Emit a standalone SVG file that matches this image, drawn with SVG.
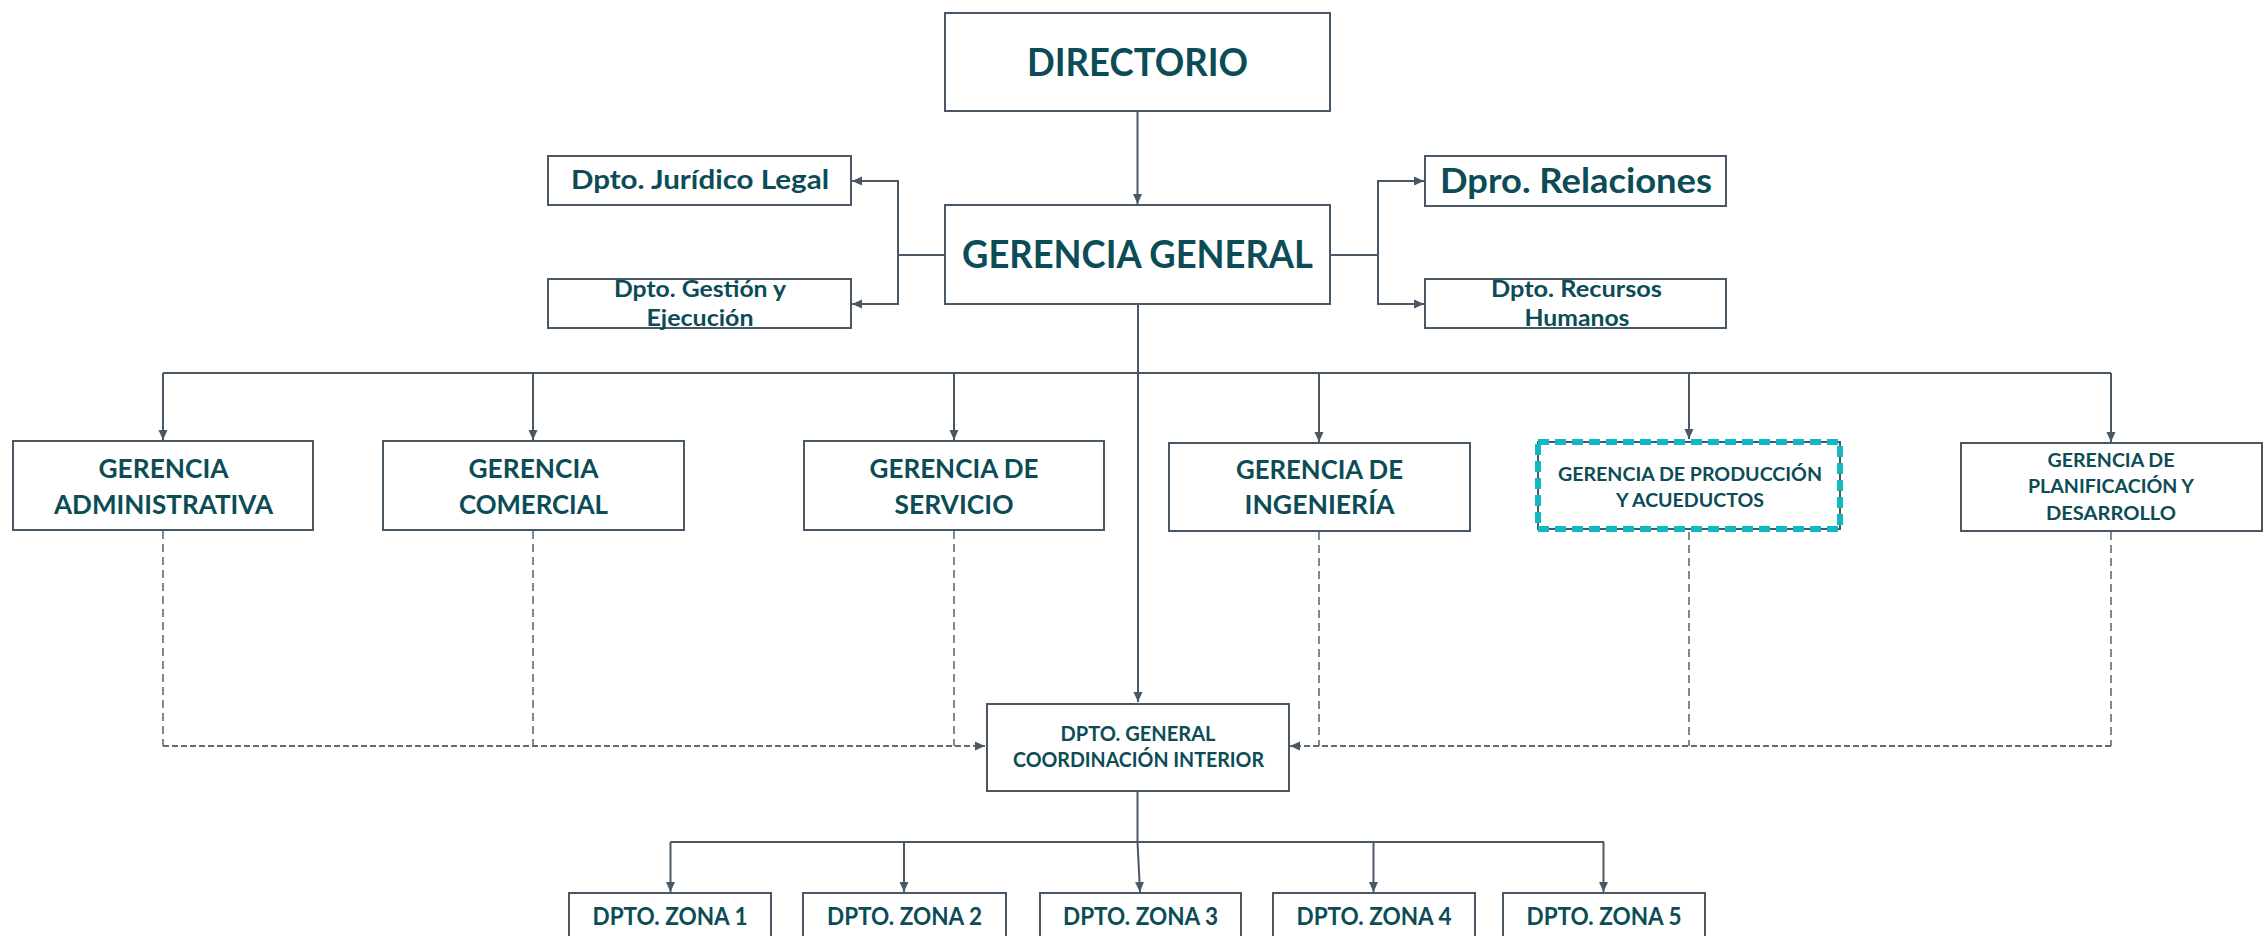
<svg xmlns="http://www.w3.org/2000/svg" width="2266" height="936" viewBox="0 0 2266 936">
<style>
.box{fill:#ffffff;stroke:#4a5866;stroke-width:2}
.hl{fill:none;stroke:#10b8c4;stroke-width:6;stroke-dasharray:11 6}
.t{font-family:Lato,"Open Sans","Liberation Sans",sans-serif;font-weight:bold;fill:#0b4c56;text-anchor:middle}
.ln{fill:none;stroke:#4a5866;stroke-width:2}
.dv{fill:none;stroke:#5f6b78;stroke-width:1.6;stroke-dasharray:8 5}
.dh{fill:none;stroke:#5f6b78;stroke-width:2.2;stroke-dasharray:6 3}
</style>
<defs>
<marker id="ah" markerUnits="userSpaceOnUse" markerWidth="11" markerHeight="10" refX="10" refY="5" orient="auto">
<path d="M0,0.5 L10,5 L0,9.5 z" fill="#4a5866"/>
</marker>
</defs>
<rect x="0" y="0" width="2266" height="936" fill="#ffffff"/>
<g id="connectors">
<path class="ln" d="M1137.5 111 V204" marker-end="url(#ah)"/>
<path class="ln" d="M945 255 H898 V181 H852" marker-end="url(#ah)"/>
<path class="ln" d="M898 255 V304 H852" marker-end="url(#ah)"/>
<path class="ln" d="M1330 255 H1378 V181 H1424" marker-end="url(#ah)"/>
<path class="ln" d="M1378 255 V304 H1424" marker-end="url(#ah)"/>
<path class="ln" d="M1138 304 V702" marker-end="url(#ah)"/>
<path class="ln" d="M163 373 H2111"/>
<path class="ln" d="M163 373 V440" marker-end="url(#ah)"/>
<path class="ln" d="M533 373 V440" marker-end="url(#ah)"/>
<path class="ln" d="M954 373 V440" marker-end="url(#ah)"/>
<path class="ln" d="M1319 373 V442" marker-end="url(#ah)"/>
<path class="ln" d="M1689 373 V439" marker-end="url(#ah)"/>
<path class="ln" d="M2111 373 V442" marker-end="url(#ah)"/>
<path class="dv" d="M163 531 V746"/>
<path class="dv" d="M533 531 V746"/>
<path class="dv" d="M954 531 V746"/>
<path class="dh" d="M163 746 H985" marker-end="url(#ah)"/>
<path class="dv" d="M1319 532 V746"/>
<path class="dv" d="M1689 532 V746"/>
<path class="dv" d="M2111 532 V746"/>
<path class="dh" d="M2111 746 H1290" marker-end="url(#ah)"/>
<path class="ln" d="M1137.5 791 V842"/>
<path class="ln" d="M670.5 842 H1604"/>
<path class="ln" d="M670.5 842 V892" marker-end="url(#ah)"/>
<path class="ln" d="M904 842 V892" marker-end="url(#ah)"/>
<path class="ln" d="M1137.5 842 L1140 892" marker-end="url(#ah)"/>
<path class="ln" d="M1373.5 842 V892" marker-end="url(#ah)"/>
<path class="ln" d="M1603.5 842 V892" marker-end="url(#ah)"/>
</g>
<g id="directorio">
<rect class="box" x="945" y="13" width="385" height="98"/>
<text class="t" x="1137.5" y="75.5" font-size="39" textLength="221" lengthAdjust="spacingAndGlyphs">DIRECTORIO</text>
</g>
<g id="gerencia-general">
<rect class="box" x="945" y="205" width="385" height="99"/>
<text class="t" x="1137.5" y="267.5" font-size="38" textLength="351" lengthAdjust="spacingAndGlyphs">GERENCIA GENERAL</text>
</g>
<g id="juridico">
<rect class="box" x="548" y="156" width="303" height="49"/>
<text class="t" x="700" y="189" font-size="27" textLength="258" lengthAdjust="spacingAndGlyphs">Dpto. Jurídico Legal</text>
</g>
<g id="gestion">
<rect class="box" x="548" y="279" width="303" height="49"/>
<text class="t" x="700" y="297" font-size="22.5" textLength="172" lengthAdjust="spacingAndGlyphs">Dpto. Gestión y</text>
<text class="t" x="700" y="326" font-size="22.5" textLength="107" lengthAdjust="spacingAndGlyphs">Ejecución</text>
</g>
<g id="relaciones">
<rect class="box" x="1425" y="156" width="301" height="50"/>
<text class="t" x="1576" y="192.5" font-size="33.5" textLength="272" lengthAdjust="spacingAndGlyphs">Dpro. Relaciones</text>
</g>
<g id="recursos">
<rect class="box" x="1425" y="279" width="301" height="49"/>
<text class="t" x="1576.5" y="297" font-size="22.5" textLength="171" lengthAdjust="spacingAndGlyphs">Dpto. Recursos</text>
<text class="t" x="1577" y="326" font-size="22.5" textLength="105" lengthAdjust="spacingAndGlyphs">Humanos</text>
</g>
<g id="administrativa">
<rect class="box" x="13" y="441" width="300" height="89"/>
<text class="t" x="163.5" y="478" font-size="27.5" textLength="130" lengthAdjust="spacingAndGlyphs">GERENCIA</text>
<text class="t" x="163.5" y="514" font-size="27.5" textLength="219" lengthAdjust="spacingAndGlyphs">ADMINISTRATIVA</text>
</g>
<g id="comercial">
<rect class="box" x="383" y="441" width="301" height="89"/>
<text class="t" x="533.5" y="478" font-size="27.5" textLength="130" lengthAdjust="spacingAndGlyphs">GERENCIA</text>
<text class="t" x="533.5" y="514" font-size="27.5" textLength="149" lengthAdjust="spacingAndGlyphs">COMERCIAL</text>
</g>
<g id="servicio">
<rect class="box" x="804" y="441" width="300" height="89"/>
<text class="t" x="954" y="478" font-size="27.5" textLength="169" lengthAdjust="spacingAndGlyphs">GERENCIA DE</text>
<text class="t" x="954" y="514" font-size="27.5" textLength="119" lengthAdjust="spacingAndGlyphs">SERVICIO</text>
</g>
<g id="ingenieria">
<rect class="box" x="1169" y="443" width="301" height="88"/>
<text class="t" x="1319.5" y="479" font-size="27.5" textLength="167" lengthAdjust="spacingAndGlyphs">GERENCIA DE</text>
<text class="t" x="1319.5" y="514" font-size="27.5" textLength="150" lengthAdjust="spacingAndGlyphs">INGENIERÍA</text>
</g>
<g id="produccion">
<rect class="box" x="1538" y="442" width="302" height="87"/>
<rect class="hl" x="1538" y="442" width="302" height="87"/>
<text class="t" x="1690" y="480.7" font-size="19" textLength="264" lengthAdjust="spacingAndGlyphs">GERENCIA DE PRODUCCIÓN</text>
<text class="t" x="1690" y="506.7" font-size="19" textLength="148" lengthAdjust="spacingAndGlyphs">Y ACUEDUCTOS</text>
</g>
<g id="planificacion">
<rect class="box" x="1961" y="443" width="301" height="88"/>
<text class="t" x="2111" y="467" font-size="19" textLength="127" lengthAdjust="spacingAndGlyphs">GERENCIA DE</text>
<text class="t" x="2111" y="493.3" font-size="19" textLength="166" lengthAdjust="spacingAndGlyphs">PLANIFICACIÓN Y</text>
<text class="t" x="2111" y="520" font-size="19" textLength="130" lengthAdjust="spacingAndGlyphs">DESARROLLO</text>
</g>
<g id="coordinacion">
<rect class="box" x="987" y="704" width="302" height="87"/>
<text class="t" x="1138" y="741" font-size="21.5" textLength="155" lengthAdjust="spacingAndGlyphs">DPTO. GENERAL</text>
<text class="t" x="1138.5" y="767" font-size="21.5" textLength="251" lengthAdjust="spacingAndGlyphs">COORDINACIÓN INTERIOR</text>
</g>
<g id="zona1">
<rect class="box" x="569" y="893" width="202" height="60"/>
<text class="t" x="670" y="925" font-size="25.5" textLength="155" lengthAdjust="spacingAndGlyphs">DPTO. ZONA 1</text>
</g>
<g id="zona2">
<rect class="box" x="803" y="893" width="203" height="60"/>
<text class="t" x="904.5" y="925" font-size="25.5" textLength="155" lengthAdjust="spacingAndGlyphs">DPTO. ZONA 2</text>
</g>
<g id="zona3">
<rect class="box" x="1040" y="893" width="201" height="60"/>
<text class="t" x="1140.5" y="925" font-size="25.5" textLength="155" lengthAdjust="spacingAndGlyphs">DPTO. ZONA 3</text>
</g>
<g id="zona4">
<rect class="box" x="1273" y="893" width="202" height="60"/>
<text class="t" x="1374" y="925" font-size="25.5" textLength="155" lengthAdjust="spacingAndGlyphs">DPTO. ZONA 4</text>
</g>
<g id="zona5">
<rect class="box" x="1503" y="893" width="202" height="60"/>
<text class="t" x="1604" y="925" font-size="25.5" textLength="155" lengthAdjust="spacingAndGlyphs">DPTO. ZONA 5</text>
</g>
</svg>
